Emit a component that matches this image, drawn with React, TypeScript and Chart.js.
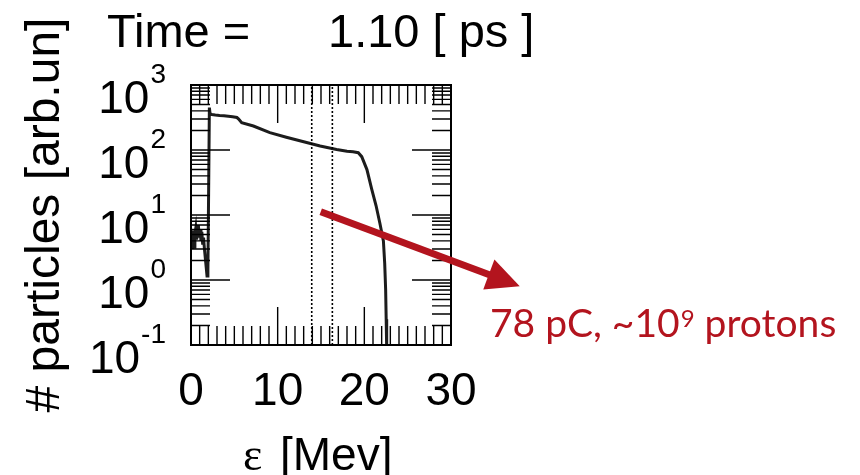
import React, { useEffect, useRef } from "react";
import { Chart, registerables } from "chart.js";

Chart.register(...registerables);

// ---- data ----
const energyMeV = [
  0.05, 0.15, 0.25, 0.35, 0.45, 0.55, 0.65, 0.75, 0.85, 0.95, 1.05, 1.15, 1.25,
  1.35, 1.45, 1.55, 1.65, 1.75, 1.85, 1.95, 2.05, 2.12, 2.2, 2.4, 2.8, 3.3, 3.8,
  4.3, 4.8, 5.3, 5.5, 5.85, 7.2, 9.1, 11.0, 13.0, 14.9, 16.8, 18.0, 18.7, 19.3,
  19.7, 20.3, 20.85, 21.35, 21.8, 22.2, 22.35, 22.46, 22.52, 22.58,
];
const particleCounts = [
  4.5, 3.0, 5.8, 3.2, 5.0, 6.2, 4.2, 5.5, 7.0, 4.5, 6.0, 4.0, 5.5, 3.5, 4.5, 3.0,
  2.2, 1.6, 1.15, 1.4, 40, 450, 360, 352, 346, 340, 336, 330, 324, 316, 300, 263,
  234, 185, 157, 134, 115, 102, 96, 94, 91, 79, 50, 25, 14, 7.4, 4.0, 1.8, 0.7,
  0.25, 0.09,
];
const cutLinesMeV = [13.93, 16.31];
const xTickValues = [0, 10, 20, 30];
const xTickLabels = ["0", "10", "20", "30"];
const yDecadeValues = [0.1, 1, 10, 100, 1000];
const yDecadeExponents = ["-1", "0", "1", "2", "3"];
const titleLeft = "Time =";
const titleRight = "1.10 [ ps ]";
const xTitleSymbol = "ε";
const xTitleUnit = "[Mev]";
const yTitle = "# particles [arb.un]";
const noteMain = "78 pC, ~10";
const noteExp = "9";
const noteTail = " protons";
const arrowStart = { x: 14.97, y: 11.25 };

const SANS = '"Liberation Sans", Arial, Helvetica, sans-serif';
const NOTE_FONT = 'Lato, "Open Sans", sans-serif';
const RED = "#B3141E";

const decorPlugin = {
  id: "decor",
  afterDatasetsDraw(chart: any) {
    const { ctx, chartArea: a, scales } = chart;
    const xs = scales.x;
    const ys = scales.y;
    ctx.save();
    // ticks
    ctx.strokeStyle = "#000";
    ctx.lineWidth = 1.4;
    ctx.beginPath();
    for (let v = 1; v < 30; v++) {
      const px = xs.getPixelForValue(v);
      const len = v % 10 === 0 ? 38 : 19;
      ctx.moveTo(px, a.top);
      ctx.lineTo(px, a.top + len);
      ctx.moveTo(px, a.bottom);
      ctx.lineTo(px, a.bottom - len);
    }
    for (let d = -1; d <= 2; d++) {
      for (let m = 1; m <= 9; m++) {
        const v = m * Math.pow(10, d);
        const py = ys.getPixelForValue(v);
        const len = m === 1 ? 39 : 19;
        ctx.moveTo(a.left, py);
        ctx.lineTo(a.left + len, py);
        ctx.moveTo(a.right, py);
        ctx.lineTo(a.right - len, py);
      }
    }
    ctx.stroke();
    ctx.lineWidth = 2;
    ctx.strokeRect(a.left, a.top, a.right - a.left, a.bottom - a.top);

    ctx.fillStyle = "#000";
    // x tick labels
    ctx.font = `46px ${SANS}`;
    ctx.textAlign = "center";
    ctx.textBaseline = "alphabetic";
    xTickValues.forEach((v, i) => {
      ctx.fillText(xTickLabels[i], xs.getPixelForValue(v), a.bottom + 60);
    });
    // y tick labels
    const rightEdge = a.left - 25;
    yDecadeValues.forEach((v, i) => {
      const py = ys.getPixelForValue(v);
      ctx.textAlign = "right";
      ctx.font = `28px ${SANS}`;
      const ew = ctx.measureText(yDecadeExponents[i]).width;
      ctx.fillText(yDecadeExponents[i], rightEdge, py - 2);
      ctx.font = `46px ${SANS}`;
      ctx.fillText("10", rightEdge - ew - 1, py + 28);
    });
    // y title
    ctx.save();
    ctx.translate(59, (a.top + a.bottom) / 2);
    ctx.rotate(-Math.PI / 2);
    ctx.font = `48px ${SANS}`;
    ctx.textAlign = "center";
    ctx.fillText(yTitle, 0, 0);
    ctx.restore();
    // x title
    const cx = (a.left + a.right) / 2;
    ctx.textAlign = "left";
    ctx.font = `46px "Liberation Serif", "DejaVu Serif", serif`;
    ctx.fillText(xTitleSymbol, cx - 78, 470);
    ctx.font = `46px ${SANS}`;
    ctx.fillText(xTitleUnit, cx - 41, 470);
    // title
    ctx.font = `47px ${SANS}`;
    ctx.fillText(titleLeft, a.left - 84, 47);
    ctx.fillText(titleRight, a.left + 137, 47);
    ctx.restore();
  },
  afterDraw(chart: any) {
    const { ctx, scales } = chart;
    const sx = scales.x.getPixelForValue(arrowStart.x);
    const sy = scales.y.getPixelForValue(arrowStart.y);
    const tx = sx + 199;
    const ty = sy + 74.5;
    const dx = tx - sx;
    const dy = ty - sy;
    const L = Math.hypot(dx, dy);
    const ux = dx / L;
    const uy = dy / L;
    const headLen = 33;
    const headHalf = 16;
    const bx = tx - ux * headLen;
    const by = ty - uy * headLen;
    ctx.save();
    ctx.strokeStyle = RED;
    ctx.fillStyle = RED;
    ctx.lineWidth = 7;
    ctx.beginPath();
    ctx.moveTo(sx, sy);
    ctx.lineTo(bx + ux * 2, by + uy * 2);
    ctx.stroke();
    ctx.beginPath();
    ctx.moveTo(tx, ty);
    ctx.lineTo(bx - uy * headHalf, by + ux * headHalf);
    ctx.lineTo(bx + uy * headHalf, by - ux * headHalf);
    ctx.closePath();
    ctx.fill();
    // note text
    const base = 337;
    let x = 490;
    ctx.textAlign = "left";
    ctx.textBaseline = "alphabetic";
    ctx.font = `39px ${NOTE_FONT}`;
    ctx.fillText(noteMain, x, base);
    x += ctx.measureText(noteMain).width + 1;
    ctx.font = `24px ${NOTE_FONT}`;
    ctx.fillText(noteExp, x, base - 10);
    x += ctx.measureText(noteExp).width;
    ctx.font = `39px ${NOTE_FONT}`;
    ctx.fillText(noteTail, x, base);
    ctx.restore();
  },
};

export default function App() {
  const ref = useRef<HTMLCanvasElement | null>(null);
  useEffect(() => {
    if (!ref.current) return;
    const curve = energyMeV.map((e, i) => ({ x: e, y: particleCounts[i] }));
    const cutSets = cutLinesMeV.map((c) => ({
      data: [
        { x: c, y: yDecadeValues[0] },
        { x: c, y: yDecadeValues[yDecadeValues.length - 1] },
      ],
      borderColor: "#000",
      borderWidth: 1.6,
      borderDash: [2, 2],
      pointRadius: 0,
    }));
    const chart = new Chart(ref.current, {
      type: "line",
      data: {
        datasets: [
          ...cutSets,
          {
            data: curve,
            borderColor: "#1c1c1c",
            borderWidth: 3,
            pointRadius: 0,
            tension: 0,
          },
        ],
      },
      options: {
        animation: false,
        responsive: false,
        devicePixelRatio: 1,
        layout: { padding: { left: 191, top: 85, right: 409, bottom: 130 } },
        plugins: { legend: { display: false }, tooltip: { enabled: false } },
        scales: {
          x: { type: "linear", min: 0, max: 30, display: false },
          y: { type: "logarithmic", min: 0.1, max: 1000, display: false },
        },
      },
      plugins: [decorPlugin],
    });
    return () => chart.destroy();
  }, []);
  return (
    <div style={{ position: "fixed", left: 0, top: 0, width: 860, height: 475, background: "#fff" }}>
      <canvas ref={ref} width={860} height={475} />
    </div>
  );
}
